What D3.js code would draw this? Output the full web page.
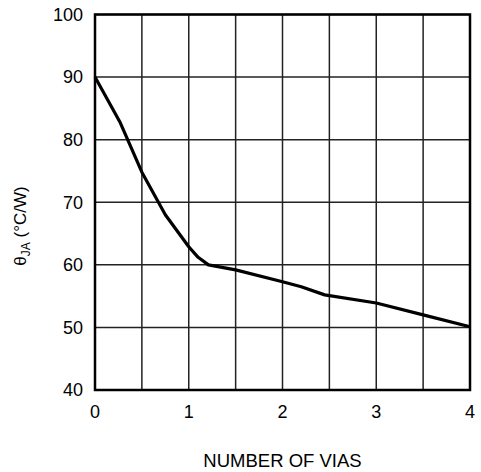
<!DOCTYPE html>
<html>
<head>
<meta charset="utf-8">
<script src="https://cdn.jsdelivr.net/npm/d3@7"></script>
<style>
  body { margin: 0; background: #fff; }
  text { font-family: "Liberation Sans", Arial, sans-serif; fill: #000; }
</style>
</head>
<body>
<svg id="chart" width="481" height="472"></svg>
<script>
// number of vias vs. thermal resistance
var vias  = [0, 0.27, 0.5, 0.75, 1.0, 1.1, 1.21, 1.5, 2.0, 2.2, 2.45, 3.0, 3.5, 4.0];
var theta = [90, 82.7, 74.8, 68, 62.9, 61.2, 60.0, 59.2, 57.3, 56.5, 55.2, 53.9, 52.0, 50.1];

var xTicks = [0, 1, 2, 3, 4];
var yTicks = [40, 50, 60, 70, 80, 90, 100];
var xGrid = d3.range(0, 4.01, 0.5);

var margin = {top: 14.5, right: 11, bottom: 82, left: 95},
    width = 481 - margin.left - margin.right,
    height = 472 - margin.top - margin.bottom;

var svg = d3.select("#chart");
var g = svg.append("g")
    .attr("transform", "translate(" + margin.left + "," + margin.top + ")");

var x = d3.scaleLinear().domain([0, 4]).range([0, width]);
var y = d3.scaleLinear().domain([40, 100]).range([height, 0]);

// grid
g.selectAll("line.vgrid")
    .data(xGrid)
  .enter().append("line")
    .attr("class", "vgrid")
    .attr("x1", x).attr("x2", x)
    .attr("y1", 0).attr("y2", height)
    .attr("stroke", "#222")
    .attr("stroke-width", 1.5);

g.selectAll("line.hgrid")
    .data(yTicks)
  .enter().append("line")
    .attr("class", "hgrid")
    .attr("x1", 0).attr("x2", width)
    .attr("y1", y).attr("y2", y)
    .attr("stroke", "#222")
    .attr("stroke-width", 1.5);

// frame
g.append("rect")
    .attr("width", width)
    .attr("height", height)
    .attr("fill", "none")
    .attr("stroke", "#000")
    .attr("stroke-width", 2.5);

// tick labels
g.selectAll("text.ytick")
    .data(yTicks)
  .enter().append("text")
    .attr("class", "ytick")
    .attr("x", -12)
    .attr("y", y)
    .attr("dy", "0.35em")
    .attr("text-anchor", "end")
    .style("font-size", "18px")
    .text(function(d) { return d; });

g.selectAll("text.xtick")
    .data(xTicks)
  .enter().append("text")
    .attr("class", "xtick")
    .attr("x", x)
    .attr("y", height + 28)
    .attr("text-anchor", "middle")
    .style("font-size", "18px")
    .text(function(d) { return d; });

// curve
var line = d3.line()
    .x(function(d, i) { return x(vias[i]); })
    .y(function(d) { return y(d); });

g.append("path")
    .datum(theta)
    .attr("d", line)
    .attr("fill", "none")
    .attr("stroke", "#000")
    .attr("stroke-width", 3.2)
    .attr("stroke-linejoin", "round");

// axis titles
svg.append("text")
    .attr("x", margin.left + x(2))
    .attr("y", 467)
    .attr("text-anchor", "middle")
    .style("font-size", "18.5px")
    .text("NUMBER OF VIAS");

var yl = svg.append("text")
    .attr("transform", "translate(26,226) rotate(-90)")
    .attr("text-anchor", "middle")
    .style("font-size", "17px");
yl.append("tspan").text("\u03b8");
yl.append("tspan").attr("dy", 4).style("font-size", "12px").text("JA");
yl.append("tspan").attr("dy", -4).text(" (\u00b0C/W)");
</script>
</body>
</html>
